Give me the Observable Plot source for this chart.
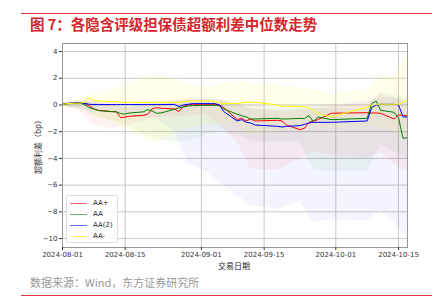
<!DOCTYPE html>
<html><head><meta charset="utf-8">
<script src="https://cdn.jsdelivr.net/npm/d3@7"></script>
<script src="https://cdn.jsdelivr.net/npm/@observablehq/plot@0.6"></script>
<style>
html,body{margin:0;padding:0;background:#fff;}
#wrap{position:relative;width:441px;height:299px;overflow:hidden;font-family:"Noto Sans CJK SC","Noto Sans",sans-serif;}
.abs{position:absolute;white-space:nowrap;}
#chart{position:absolute;left:0;top:36px;}
#chart svg{font-family:"DejaVu Sans",sans-serif;}
</style></head>
<body><div id="wrap">
<div class="abs" style="left:21px;top:13px;width:411px;height:1px;background:#d9363e"></div>
<div class="abs" style="left:30px;top:16px;font-size:14.5px;line-height:16px;font-weight:bold;color:#d7262b">图 7：各隐含评级担保债超额利差中位数走势</div>
<div id="chart"></div>
<div class="abs" style="left:37px;top:145px;transform:translate(-50%,-50%) rotate(-90deg);font-size:8px;line-height:9px;color:#333">超额利差（bp）</div>
<div class="abs" style="left:234px;top:265px;transform:translate(-50%,-50%);font-size:8px;line-height:9px;color:#222">交易日期</div>
<div class="abs" id="legend" style="left:66px;top:195px;width:50px;height:46px;border:1px solid #ddd;background:rgba(255,255,255,0.85);border-radius:2px"></div>
<div class="abs" style="left:30px;top:276px;font-size:11px;line-height:13px;color:#999">数据来源：Wind，东方证券研究所</div>
<div class="abs" style="left:21px;top:295px;width:411px;height:1px;background:#d9363e"></div>
</div>
<script>
const dates = ["2024-08-01","2024-08-02","2024-08-05","2024-08-06","2024-08-07","2024-08-08","2024-08-09","2024-08-12","2024-08-13","2024-08-14","2024-08-15","2024-08-16","2024-08-19","2024-08-20","2024-08-21","2024-08-22","2024-08-23","2024-08-26","2024-08-27","2024-08-28","2024-08-29","2024-08-30","2024-09-02","2024-09-03","2024-09-04","2024-09-05","2024-09-06","2024-09-09","2024-09-10","2024-09-11","2024-09-12","2024-09-13","2024-09-18","2024-09-19","2024-09-20","2024-09-23","2024-09-24","2024-09-25","2024-09-26","2024-09-27","2024-09-30","2024-10-08","2024-10-09","2024-10-10","2024-10-11","2024-10-14","2024-10-15","2024-10-16","2024-10-17"];
const aaPlus = [0.05,0.1,0.18,0.1,-0.05,-0.3,-0.4,-0.5,-0.5,-0.95,-0.9,-0.85,-0.78,-0.7,-0.3,-0.2,-0.25,-0.3,-0.5,-0.1,0.0,0.05,0.05,0.05,0.05,0.0,-0.2,-1.1,-1.0,-1.2,-1.05,-1.2,-1.15,-1.2,-1.5,-1.85,-1.75,-1.3,-1.2,-1.1,-0.62,-0.58,-0.6,-0.6,-0.62,-1.05,-0.75,-0.78,-0.8];
const aa = [0.05,0.08,0.15,0.0,-0.2,-0.3,-0.42,-0.5,-0.52,-0.65,-0.68,-0.6,-0.52,-0.35,-0.45,-0.62,-0.6,-0.32,-0.22,-0.15,-0.08,-0.05,-0.03,-0.03,-0.03,-0.05,-0.3,-0.7,-0.8,-0.9,-1.05,-1.05,-1.0,-1.05,-1.05,-1.0,-1.02,-0.8,-1.25,-0.9,-1.1,-1.0,0.1,0.3,-0.4,-0.55,-0.95,-2.5,-2.45];
const aa2 = [0.05,0.12,0.18,0.12,0.05,0.03,0.03,0.03,0.03,0.03,0.03,0.03,0.03,0.03,0.03,0.03,0.03,0.04,-0.12,0.0,0.05,0.1,0.1,0.1,0.1,0.0,-0.5,-1.2,-1.1,-1.3,-1.35,-1.5,-1.6,-1.65,-1.6,-1.55,-1.45,-1.35,-1.3,-1.3,-1.3,-1.2,-0.2,0.0,0.05,0.05,0.0,-0.9,-0.9];
const aaMinus = [0.05,0.1,0.15,0.2,0.55,0.35,0.3,0.25,0.25,0.2,0.2,0.2,0.18,0.18,0.2,0.2,0.2,0.2,0.2,0.25,0.28,0.3,0.3,0.3,0.25,0.15,0.12,0.1,0.15,0.2,0.2,0.2,0.0,-0.1,-0.1,-0.12,-0.15,-0.2,-0.45,-0.65,-0.9,-0.15,0.0,0.05,0.05,0.05,0.05,0.2,0.4];

const bandDates = ["2024-08-01","2024-08-05","2024-08-08","2024-08-12","2024-08-15","2024-08-19","2024-08-22","2024-08-26","2024-08-29","2024-09-02","2024-09-05","2024-09-09","2024-09-12","2024-09-18","2024-09-23","2024-09-26","2024-09-30","2024-10-08","2024-10-11","2024-10-14","2024-10-17"];
const aaPlusHigh = [0.1,0.3,0.3,0.0,-0.2,-0.1,0.2,0.3,0.4,0.4,0.4,0.0,-0.3,-0.5,-0.4,-0.3,-0.1,0.1,0.8,0.5,0.3];
const aaPlusLow = [-0.1,-0.5,-1.5,-1.8,-1.6,-1.2,-0.9,-0.9,-0.8,-0.7,-1.5,-2.8,-4.8,-4.9,-4.0,-3.5,-3.8,-4.0,-3.5,-4.5,-5.0];
const aaHigh = [0.1,0.2,0.2,0.0,-0.2,0.0,0.2,0.3,0.3,0.3,0.3,0.1,-0.3,-0.4,-0.3,-0.2,-0.3,-0.3,1.0,0.8,0.5];
const aaLow = [-0.1,-0.3,-0.8,-1.2,-1.5,-2.2,-2.6,-2.8,-2.7,-2.3,-2.0,-2.3,-2.7,-2.8,-2.8,-4.8,-5.0,-5.0,-3.0,-3.5,-4.0];
const aa2High = [0.2,0.3,0.3,0.2,0.2,0.2,0.2,0.3,0.4,0.4,0.4,0.2,0.0,-0.2,-0.1,0.0,0.0,0.3,0.5,0.6,0.2];
const aa2Low = [-0.1,-0.3,-0.5,-0.6,-0.6,-0.8,-1.0,-2.0,-4.4,-5.0,-5.8,-6.8,-7.5,-7.8,-7.2,-8.8,-8.6,-8.7,-7.9,-8.8,-10.0];
const aaMinusHigh = [0.2,0.5,0.9,1.2,1.5,2.0,2.2,2.0,1.5,1.3,1.5,1.8,1.6,1.5,1.3,1.1,0.8,1.2,2.2,2.0,3.8];
const aaMinusLow = [-0.2,-0.3,-0.8,-1.3,-1.8,-2.5,-2.8,-2.2,-1.8,-1.5,-1.4,-1.6,-2.2,-2.0,-1.8,-1.7,-1.8,-1.6,-1.7,-2.0,-2.5];

const seriesNames = ["AA+","AA","AA(2)","AA-"];
const seriesColors = ["#ff0000","#008000","#0000ff","#ffff00"];
const legendColors = ["#ff6666","#66b266","#6666ff","#ffff66"];
const xTicks = ["2024-08-01","2024-08-15","2024-09-01","2024-09-15","2024-10-01","2024-10-15"];
const yTicks = [-10,-8,-6,-4,-2,0,2,4];

const parse = d3.utcParse("%Y-%m-%d");
const lineVals = [aaPlus, aa, aa2, aaMinus];
const highs = [aaPlusHigh, aaHigh, aa2High, aaMinusHigh];
const lows = [aaPlusLow, aaLow, aa2Low, aaMinusLow];
const bandOpacity = [0.05, 0.05, 0.045, 0.08];

const lineData = [];
seriesNames.forEach((s,i)=>dates.forEach((d,j)=>lineData.push({series:s,date:parse(d),value:lineVals[i][j]})));
const bandData = [];
seriesNames.forEach((s,i)=>bandDates.forEach((d,j)=>bandData.push({series:s,date:parse(d),lo:lows[i][j],hi:highs[i][j]})));

const marks = [
  Plot.gridY(yTicks, {stroke:"#c8c8c8", strokeOpacity:1}),
  Plot.gridX(xTicks.map(parse), {stroke:"#c8c8c8", strokeOpacity:1}),
];
seriesNames.forEach((s,i)=>{
  marks.push(Plot.areaY(bandData.filter(d=>d.series===s), {x:"date", y1:"lo", y2:"hi", fill: seriesColors[i], fillOpacity: bandOpacity[i]}));
});
seriesNames.forEach((s,i)=>{
  marks.push(Plot.lineY(lineData.filter(d=>d.series===s), {x:"date", y:"value", stroke: seriesColors[i], strokeWidth:1}));
});
marks.push(Plot.frame({stroke:"#999"}));
marks.push(Plot.axisY(yTicks, {tickSize:3, tickPadding:2, fontSize:7, label:null, color:"#333"}));
marks.push(Plot.axisX(xTicks.map(parse), {tickSize:3, tickPadding:2, fontSize:7, label:null, tickFormat:d3.utcFormat("%Y-%m-%d"), color:"#333"}));

const chart = Plot.plot({
  width:441, height:239,
  marginLeft:62, marginRight:34, marginTop:7, marginBottom:28,
  x:{type:"utc", domain:[parse("2024-08-01"), parse("2024-10-17")]},
  y:{domain:[-10.67,4.6]},
  style:{background:"transparent"},
  marks
});
document.getElementById("chart").appendChild(chart);

const leg = document.getElementById("legend");
seriesNames.forEach((s,i)=>{
  const sw = document.createElement("div");
  sw.style.cssText = `position:absolute;left:3px;top:${7+i*11}px;width:17px;height:1px;background:${legendColors[i]};`;
  leg.appendChild(sw);
  const tx = document.createElement("div");
  tx.textContent = s;
  tx.style.cssText = `position:absolute;left:26px;top:${2+i*11}px;font:7px/10px 'DejaVu Sans',sans-serif;color:#222;white-space:nowrap;`;
  leg.appendChild(tx);
});
</script>
</body></html>
